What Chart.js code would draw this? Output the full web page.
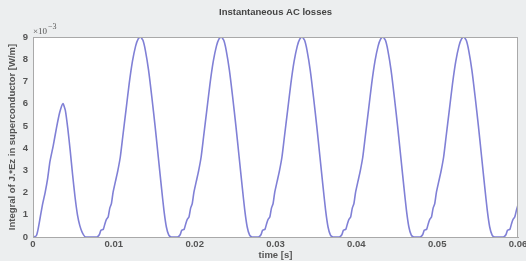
<!DOCTYPE html>
<html>
<head>
<meta charset="utf-8">
<script src="https://cdn.jsdelivr.net/npm/chart.js@4"></script>
<style>
  html, body { margin: 0; padding: 0; background: #eceeef; overflow: hidden; }
  #wrap { width: 526px; height: 261px; }
</style>
</head>
<body>
<div id="wrap"><canvas id="chart"></canvas></div>
<script>
// time [s] and loss [x1e-3 W/m]
var timeS = [
  0, 0.0004, 0.0006, 0.0009, 0.0012, 0.0015, 0.0018, 0.0021, 0.0025, 0.0029, 0.0033, 0.0037,
  0.0040, 0.0043, 0.0046, 0.0049, 0.0052, 0.0055, 0.0058, 0.0061, 0.0065,
  0.0079, 0.0082, 0.0084, 0.0087, 0.0089, 0.0091, 0.0093, 0.0095, 0.0097, 0.0099, 0.0102, 0.0105, 0.0108, 0.0111,
  0.0115, 0.0119, 0.0123, 0.0127, 0.0130, 0.0133, 0.0136, 0.0139, 0.0143, 0.0147, 0.0151, 0.0155, 0.0159, 0.0162,
  0.0165, 0.0168, 0.0171,
  0.0179, 0.0182, 0.0184, 0.0187, 0.0189, 0.0191, 0.0193, 0.0195, 0.0197, 0.0199, 0.0202, 0.0205, 0.0208, 0.0211,
  0.0215, 0.0219, 0.0223, 0.0227, 0.0230, 0.0233, 0.0236, 0.0239, 0.0243, 0.0247, 0.0251, 0.0255, 0.0259, 0.0262,
  0.0265, 0.0268, 0.0271,
  0.0279, 0.0282, 0.0284, 0.0287, 0.0289, 0.0291, 0.0293, 0.0295, 0.0297, 0.0299, 0.0302, 0.0305, 0.0308, 0.0311,
  0.0315, 0.0319, 0.0323, 0.0327, 0.0330, 0.0333, 0.0336, 0.0339, 0.0343, 0.0347, 0.0351, 0.0355, 0.0359, 0.0362,
  0.0365, 0.0368, 0.0371,
  0.0379, 0.0382, 0.0384, 0.0387, 0.0389, 0.0391, 0.0393, 0.0395, 0.0397, 0.0399, 0.0402, 0.0405, 0.0408, 0.0411,
  0.0415, 0.0419, 0.0423, 0.0427, 0.0430, 0.0433, 0.0436, 0.0439, 0.0443, 0.0447, 0.0451, 0.0455, 0.0459, 0.0462,
  0.0465, 0.0468, 0.0471,
  0.0479, 0.0482, 0.0484, 0.0487, 0.0489, 0.0491, 0.0493, 0.0495, 0.0497, 0.0499, 0.0502, 0.0505, 0.0508, 0.0511,
  0.0515, 0.0519, 0.0523, 0.0527, 0.0530, 0.0533, 0.0536, 0.0539, 0.0543, 0.0547, 0.0551, 0.0555, 0.0559, 0.0562,
  0.0565, 0.0568, 0.0571,
  0.0582, 0.0585, 0.0587, 0.0590, 0.0592, 0.0594, 0.0596, 0.0598, 0.0600
];
var lossE3 = [
  0, 0.05, 0.3, 0.9, 1.5, 2.0, 2.6, 3.4, 4.1, 4.9, 5.6, 6.0,
  5.7, 4.9, 3.9, 2.8, 1.8, 1.0, 0.5, 0.2, 0,
  0, 0.1, 0.3, 0.35, 0.6, 0.8, 0.9, 1.3, 1.5, 2.0, 2.5, 3.0, 3.6, 4.5,
  5.7, 6.9, 7.9, 8.6, 8.9, 9.0, 8.85, 8.4, 7.5, 6.3, 5.0, 3.6, 2.2, 1.2,
  0.45, 0.08, 0,
  0, 0.1, 0.3, 0.35, 0.6, 0.8, 0.9, 1.3, 1.5, 2.0, 2.5, 3.0, 3.6, 4.5,
  5.7, 6.9, 7.9, 8.6, 8.9, 9.0, 8.85, 8.4, 7.5, 6.3, 5.0, 3.6, 2.2, 1.2,
  0.45, 0.08, 0,
  0, 0.1, 0.3, 0.35, 0.6, 0.8, 0.9, 1.3, 1.5, 2.0, 2.5, 3.0, 3.6, 4.5,
  5.7, 6.9, 7.9, 8.6, 8.9, 9.0, 8.85, 8.4, 7.5, 6.3, 5.0, 3.6, 2.2, 1.2,
  0.45, 0.08, 0,
  0, 0.1, 0.3, 0.35, 0.6, 0.8, 0.9, 1.3, 1.5, 2.0, 2.5, 3.0, 3.6, 4.5,
  5.7, 6.9, 7.9, 8.6, 8.9, 9.0, 8.85, 8.4, 7.5, 6.3, 5.0, 3.6, 2.2, 1.2,
  0.45, 0.08, 0,
  0, 0.1, 0.3, 0.35, 0.6, 0.8, 0.9, 1.3, 1.5, 2.0, 2.5, 3.0, 3.6, 4.5,
  5.7, 6.9, 7.9, 8.6, 8.9, 9.0, 8.85, 8.4, 7.5, 6.3, 5.0, 3.6, 2.2, 1.2,
  0.45, 0.08, 0,
  0, 0.1, 0.3, 0.35, 0.6, 0.8, 0.9, 1.2, 1.45
];
var titleText = 'Instantaneous AC losses';
var xTitle = 'time [s]';
var yTitle = 'Integral of J.*Ez in superconductor [W/m]';
var yExponent = '\u00d710';

var points = timeS.map(function (t, i) { return { x: t, y: lossE3[i] }; });

var tickFont = { family: 'Liberation Sans', size: 9.5, weight: 'bold' };
var textColor = '#555';

// white plot box with grey frame, plus the x10^-3 multiplier
var plotBox = {
  id: 'plotBox',
  beforeDatasetsDraw: function (chart) {
    var a = chart.chartArea, ctx = chart.ctx;
    ctx.save();
    ctx.fillStyle = '#ffffff';
    ctx.fillRect(a.left, a.top, a.right - a.left, a.bottom - a.top);
    ctx.restore();
  },
  afterDraw: function (chart) {
    var a = chart.chartArea, ctx = chart.ctx;
    ctx.save();
    ctx.strokeStyle = '#a9a9a9';
    ctx.lineWidth = 1;
    ctx.strokeRect(a.left + 0.5, a.top + 0.5, a.right - a.left - 1, a.bottom - a.top);
    ctx.fillStyle = textColor;
    ctx.font = '9px "Liberation Serif"';
    ctx.textBaseline = 'alphabetic';
    ctx.fillText(yExponent, a.left + 0, a.top - 3);
    ctx.font = '8px "Liberation Serif"';
    ctx.fillText('\u22123', a.left + 15, a.top - 8);
    ctx.restore();
  }
};

new Chart(document.getElementById('chart'), {
  type: 'line',
  data: {
    datasets: [{
      data: points,
      borderColor: '#8080d6',
      borderWidth: 1.6,
      pointRadius: 0,
      fill: false,
      tension: 0.2
    }]
  },
  options: {
    responsive: true,
    maintainAspectRatio: false,
    animation: false,
    layout: { padding: { left: 0, right: 8, top: 0, bottom: 0 } },
    scales: {
      x: {
        type: 'linear', min: 0, max: 0.06,
        grid: { drawOnChartArea: false, drawTicks: false },
        border: { color: '#a9a9a9' },
        ticks: {
          stepSize: 0.01, font: tickFont, color: textColor, padding: 2, maxRotation: 0,
          callback: function (v) { return String(Math.round(v * 100) / 100); }
        },
        title: { display: true, text: xTitle, font: tickFont, color: textColor, padding: { top: 0, bottom: 0 } },
        afterFit: function (s) { s.height = 24; s.paddingRight = 0; }
      },
      y: {
        min: 0, max: 9,
        grid: { drawOnChartArea: false, drawTicks: false },
        border: { color: '#a9a9a9' },
        ticks: { stepSize: 1, font: tickFont, color: textColor, padding: 5 },
        title: { display: true, text: yTitle, font: tickFont, color: textColor, padding: { top: 7, bottom: 0 } },
        afterFit: function (s) { s.width = 33; }
      }
    },
    plugins: {
      legend: { display: false },
      tooltip: { enabled: false },
      title: {
        display: true, text: titleText, fullSize: false,
        font: { family: 'Liberation Sans', size: 9.5, weight: 'bold' }, color: '#444',
        padding: { top: 7, bottom: 18.6 }
      }
    }
  },
  plugins: [plotBox]
});
</script>
</body>
</html>
